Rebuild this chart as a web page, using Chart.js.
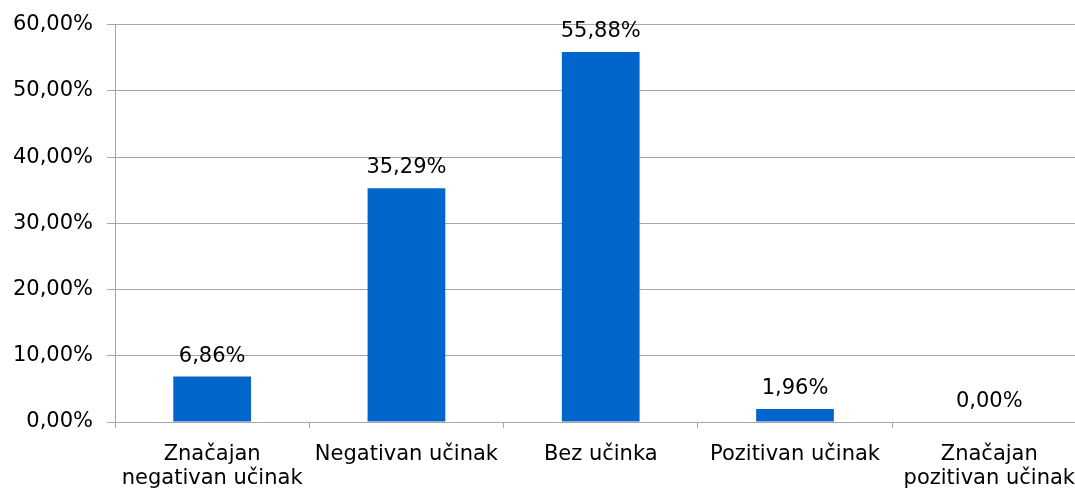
<!DOCTYPE html>
<html>
<head>
<meta charset="utf-8">
<script src="https://cdn.jsdelivr.net/npm/chart.js@4/dist/chart.umd.min.js"></script>
<style>
html,body{margin:0;padding:0;background:#fff;overflow:hidden;}
#wrap{width:1089px;height:490px;margin-top:-2px;position:relative;}
</style>
</head>
<body>
<div id="wrap"><canvas id="c"></canvas></div>
<script>
const categories = [["Značajan","negativan učinak"],"Negativan učinak","Bez učinka","Pozitivan učinak",["Značajan","pozitivan učinak"]];
const values = [6.86, 35.29, 55.88, 1.96, 0.00];
const yMax = 60;
const yStep = 10;

const fmt = v => v.toFixed(2).replace('.', ',') + '%';
const FONT = "'DejaVu Sans', Verdana, sans-serif";
const GRID = '#a6a6a6';

const labelPlugin = {
  id: 'valueLabels',
  afterDatasetsDraw(chart) {
    const ctx = chart.ctx;
    const meta = chart.getDatasetMeta(0);
    ctx.save();
    ctx.font = '21px ' + FONT;
    ctx.fillStyle = '#000';
    ctx.textAlign = 'center';
    ctx.textBaseline = 'alphabetic';
    meta.data.forEach((bar, i) => {
      ctx.fillText(fmt(values[i]), bar.x, bar.y - 15);
    });
    ctx.restore();
  }
};

new Chart(document.getElementById('c'), {
  type: 'bar',
  data: {
    labels: categories,
    datasets: [{
      data: values,
      backgroundColor: '#0066CC',
      borderWidth: 0,
      barPercentage: 0.4,
      categoryPercentage: 1.0
    }]
  },
  options: {
    responsive: true,
    maintainAspectRatio: false,
    animation: false,
    layout: { padding: { top: 19, left: 0, right: 0, bottom: 0 } },
    plugins: { legend: { display: false }, tooltip: { enabled: false } },
    scales: {
      x: {
        grid: { drawOnChartArea: false, drawTicks: true, tickLength: 6, color: GRID, offset: true },
        border: { color: GRID, width: 1 },
        ticks: { color: '#000', font: { family: FONT, size: 21, lineHeight: 1.15 }, padding: 14, maxRotation: 0, autoSkip: false },
        afterFit(scale) { scale.height = 66; }
      },
      y: {
        min: 0, max: yMax,
        grid: { color: GRID, tickLength: 8, drawTicks: true },
        border: { color: GRID, width: 1 },
        ticks: { stepSize: yStep, color: '#000', font: { family: FONT, size: 21 }, padding: 14, callback: v => fmt(v) },
        afterFit(scale) { scale.width = 115; }
      }
    }
  },
  plugins: [labelPlugin]
});
</script>
</body>
</html>
